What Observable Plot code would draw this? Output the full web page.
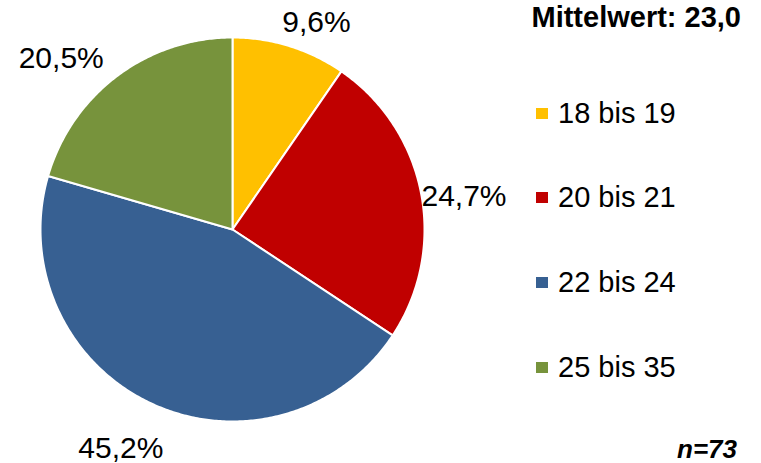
<!DOCTYPE html>
<html>
<head>
<meta charset="utf-8">
<script src="https://cdn.jsdelivr.net/npm/d3@7"></script>
<script src="https://cdn.jsdelivr.net/npm/@observablehq/plot@0.6"></script>
<style>
  html, body { margin: 0; padding: 0; background: #fff; }
  #wrap { position: relative; width: 761px; height: 463px; overflow: hidden; font-family: "Liberation Sans", Arial, sans-serif; color: #000; }
  #wrap svg { position: absolute; left: 0; top: 0; }
  .title { position: absolute; right: 20px; top: 1px; font-weight: bold; font-size: 29px; line-height: 32px; white-space: nowrap; }
  .note { position: absolute; right: 24px; top: 434px; font-weight: bold; font-style: italic; font-size: 26px; line-height: 30px; white-space: nowrap; }
  .legend { position: absolute; left: 536px; top: 0; }
  .item { position: absolute; left: 0; height: 30px; display: flex; align-items: center; white-space: nowrap; font-size: 29px; }
  .sw { width: 12px; height: 11px; margin-right: 10px; flex: none; }
</style>
</head>
<body>
<div id="wrap"></div>
<script>
const categories = ["18 bis 19", "20 bis 21", "22 bis 24", "25 bis 35"];
const shares = [9.6, 24.7, 45.2, 20.5];
const shareLabels = ["9,6%", "24,7%", "45,2%", "20,5%"];
const colors = ["#FFC000", "#C00000", "#376092", "#77933C"];
const titleText = "Mittelwert: 23,0";
const noteText = "n=73";

const W = 761, H = 463, cx = 232, cy = 229, R = 192;

const arcs = d3.pie().sort(null).value(d => d)(shares);

// polygon vertices for each slice, derived from the pie angles
const slicePts = [];
arcs.forEach((a, i) => {
  const cat = categories[i];
  slicePts.push({cat, x: 0, y: 0});
  const n = Math.max(2, Math.ceil((a.endAngle - a.startAngle) / 0.01));
  for (let k = 0; k <= n; k++) {
    const t = a.startAngle + (a.endAngle - a.startAngle) * k / n;
    slicePts.push({cat, x: Math.sin(t), y: Math.cos(t)});
  }
});

const labelData = arcs.map((a, i) => {
  const m = (a.startAngle + a.endAngle) / 2;
  return {label: shareLabels[i], x: Math.sin(m), y: Math.cos(m)};
});
// Excel-style label offsets (pixels) from the slice's outer mid point
const labelOffsets = [[27, -24], [43, 3], [-31, 45], [-56, -18]];

const textMarks = labelData.map((d, i) => Plot.text([d], {
  x: "x", y: "y", text: "label",
  dx: labelOffsets[i][0], dy: labelOffsets[i][1],
  fontSize: 30, fill: "#000", textAnchor: "middle", lineAnchor: "middle"
}));

const chart = Plot.plot({
  width: W, height: H,
  margin: 0,
  style: {fontFamily: "'Liberation Sans', Arial, sans-serif", background: "transparent"},
  x: {type: "linear", domain: [-cx / R, (W - cx) / R], range: [0, W], axis: null},
  y: {type: "linear", domain: [-(H - cy) / R, cy / R], range: [H, 0], axis: null},
  color: {domain: categories, range: colors},
  marks: [
    Plot.line(slicePts, {x: "x", y: "y", z: "cat", fill: "cat", stroke: "#fff", strokeWidth: 2, curve: "linear-closed"}),
    ...textMarks
  ]
});

const wrap = document.getElementById("wrap");
wrap.appendChild(chart);

const t = document.createElement("div");
t.className = "title"; t.textContent = titleText; wrap.appendChild(t);

const legend = document.createElement("div");
legend.className = "legend";
const rowCenters = [113, 197.5, 282.5, 367.5];
categories.forEach((c, i) => {
  const it = document.createElement("div");
  it.className = "item";
  it.style.top = (rowCenters[i] - 15) + "px";
  const sw = document.createElement("span");
  sw.className = "sw"; sw.style.background = colors[i];
  const lab = document.createElement("span");
  lab.textContent = c;
  it.appendChild(sw); it.appendChild(lab);
  legend.appendChild(it);
});
wrap.appendChild(legend);

const n = document.createElement("div");
n.className = "note"; n.textContent = noteText; wrap.appendChild(n);
</script>
</body>
</html>
